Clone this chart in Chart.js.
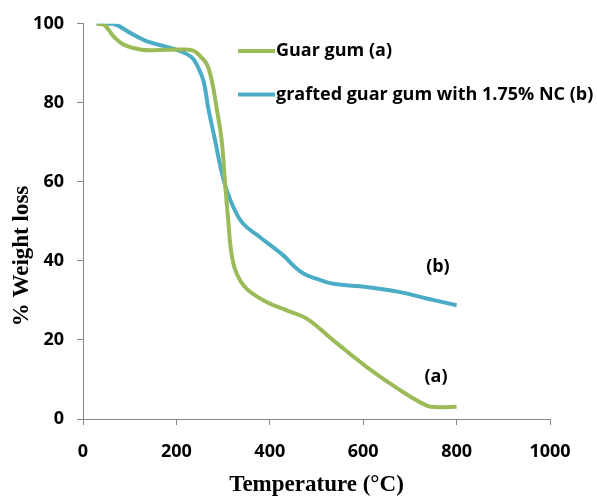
<!DOCTYPE html>
<html>
<head>
<meta charset="utf-8">
<script src="https://cdn.jsdelivr.net/npm/chart.js@4"></script>
<style>
  html, body { margin: 0; padding: 0; background: #fff; }
  #wrap { width: 597px; height: 497px; }
</style>
</head>
<body>
<div id="wrap"><canvas id="tgaChart" width="597" height="497"></canvas></div>
<script>
// Series (a) - guar gum
const tempA = [30, 45, 65, 86, 122, 150, 208, 236, 251, 265, 276, 286, 297, 304, 311, 318, 329, 350, 393, 436, 479, 536, 607, 679, 736, 760, 800];
const weightA = [100, 99.8, 96.9, 94.8, 93.5, 93.3, 93.5, 93.2, 91.8, 89.8, 85.5, 78.8, 70.4, 60, 50.2, 41.8, 36.8, 33, 29.6, 27.5, 25.4, 19.9, 13.2, 7.3, 3.4, 3.0, 3.1];

// Series (b) - grafted guar gum with NC
const tempB = [29, 65, 101, 136, 172, 208, 232, 243, 258, 268, 283, 297, 308, 322, 343, 379, 429, 450, 472, 500, 536, 607, 679, 736, 800];
const weightB = [100, 100, 97.7, 95.6, 94.4, 93.1, 91.6, 89.8, 85.5, 78.8, 70.4, 62.4, 57.8, 53.6, 49.4, 46, 41.4, 38.9, 36.8, 35.5, 34.2, 33.4, 32.1, 30.5, 28.8];

const seriesLabels = ['Guar gum (a)', 'grafted guar gum with 1.75% NC (b)'];
const seriesColors = ['#9BBB59', '#4BACC6'];

// Axis ticks
const xTicks = [0, 200, 400, 600, 800, 1000];
const yTicks = [0, 20, 40, 60, 80, 100];

// Curve tags, in data units
const tagText = ['(a)', '(b)'];
const tagX = [756, 760];
const tagY = [10.6, 38.4];

const xTitle = 'Temperature (°C)';
const yTitle = '% Weight loss';

const sansBold = { family: '"Open Sans", sans-serif', size: 18, weight: 'bold' };
const axisGray = '#868686';

function toPoints(xs, ys) {
    return xs.map((x, i) => ({ x: x, y: ys[i] }));
}

// Draws the axis titles, the legend and the (a)/(b) tags
const extrasPlugin = {
    id: 'extras',
    afterDraw(chart) {
        const ctx = chart.ctx;
        const area = chart.chartArea;
        const xs = chart.scales.x;
        const ys = chart.scales.y;
        ctx.save();

        // axis titles
        ctx.fillStyle = '#000';
        ctx.font = 'bold 23px "Liberation Serif", "Times New Roman", serif';
        ctx.textAlign = 'center';
        ctx.textBaseline = 'middle';
        ctx.fillText(xTitle, (area.left + area.right) / 2, 485);
        ctx.save();
        ctx.translate(22, 256);
        ctx.rotate(-Math.PI / 2);
        ctx.fillText(yTitle, 0, 0);
        ctx.restore();

        // legend
        ctx.font = 'bold 18px "Open Sans", sans-serif';
        ctx.textAlign = 'left';
        seriesLabels.forEach((label, i) => {
            const y = 51 + i * 43.5;
            ctx.strokeStyle = seriesColors[i];
            ctx.lineWidth = 4;
            ctx.beginPath();
            ctx.moveTo(238, y);
            ctx.lineTo(275, y);
            ctx.stroke();
            ctx.fillStyle = '#000';
            ctx.fillText(label, 276, y);
        });

        // curve tags
        ctx.textAlign = 'center';
        tagText.forEach((t, i) => {
            ctx.fillText(t, xs.getPixelForValue(tagX[i]), ys.getPixelForValue(tagY[i]));
        });
        ctx.restore();
    }
};

new Chart(document.getElementById('tgaChart'), {
    type: 'line',
    data: {
        datasets: [
            {
                label: seriesLabels[0],
                data: toPoints(tempA, weightA),
                borderColor: seriesColors[0],
                borderWidth: 4,
                pointRadius: 0,
                tension: 0.4,
                fill: false
            },
            {
                label: seriesLabels[1],
                data: toPoints(tempB, weightB),
                borderColor: seriesColors[1],
                borderWidth: 4,
                pointRadius: 0,
                tension: 0.4,
                fill: false
            }
        ]
    },
    options: {
        responsive: false,
        animation: false,
        devicePixelRatio: 1,
        layout: { padding: { left: 0, right: 47, top: 23, bottom: 0 } },
        plugins: {
            legend: { display: false },
            tooltip: { enabled: false }
        },
        scales: {
            x: {
                type: 'linear',
                min: 0,
                max: 1000,
                afterBuildTicks: (scale) => { scale.ticks = xTicks.map(v => ({ value: v })); },
                afterFit: (scale) => { scale.height = 78; },
                grid: { display: true, drawOnChartArea: false, drawTicks: true, tickLength: 6, color: axisGray },
                border: { color: axisGray, width: 1 },
                ticks: { color: '#000', font: sansBold, padding: 16, maxRotation: 0, callback: (v) => String(v) }
            },
            y: {
                type: 'linear',
                min: 0,
                max: 100,
                afterBuildTicks: (scale) => { scale.ticks = yTicks.map(v => ({ value: v })); },
                afterFit: (scale) => { scale.width = 83; },
                grid: { display: true, drawOnChartArea: false, drawTicks: true, tickLength: 6, color: axisGray },
                border: { color: axisGray, width: 1 },
                ticks: { color: '#000', font: sansBold, padding: 13, callback: (v) => String(v) }
            }
        }
    },
    plugins: [extrasPlugin]
});
</script>
</body>
</html>
